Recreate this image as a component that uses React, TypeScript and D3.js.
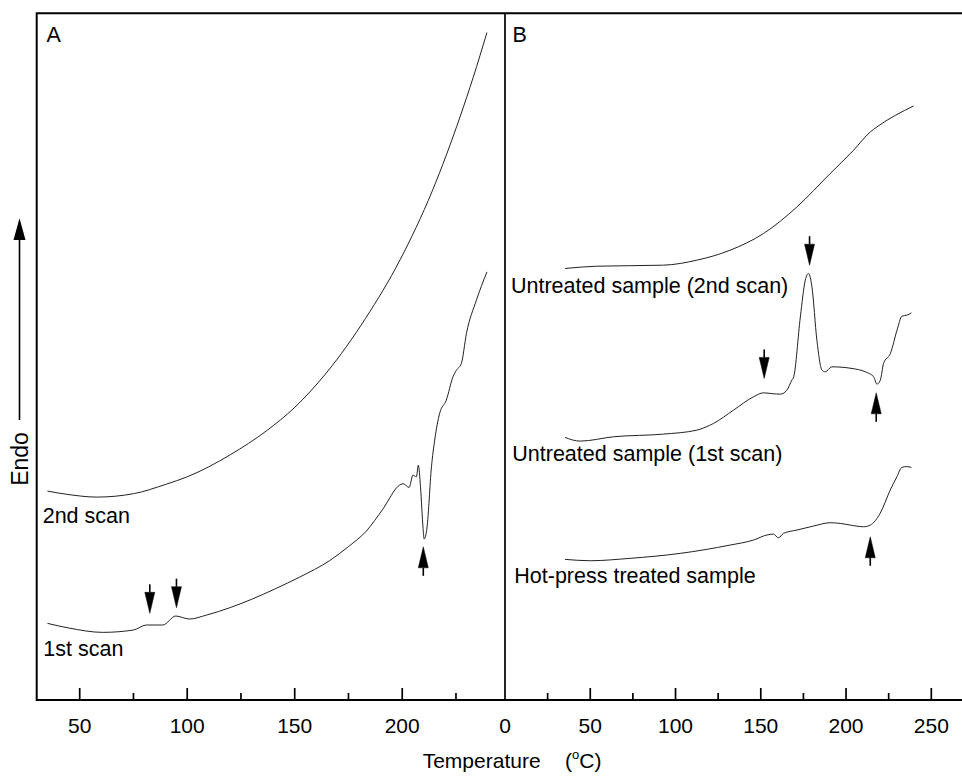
import React from "react";
import * as d3 from "d3";

// ---- Data (temperature °C, heat flow in arbitrary units, endo up) ----
const ticksA = [50, 100, 150, 200];
const minorTicksA = [75, 125, 175, 225];
const ticksB = [0, 50, 100, 150, 200, 250];
const minorTicksB = [25, 75, 125, 175, 225];

// Panel A
const scanA2: [number, number][] = [
  [35, 30.42], [45, 29.91], [58, 29.55], [75, 30.04], [90, 31.4], [100, 32.5],
  [120, 35.71], [137, 39.23], [150, 42.61], [165, 47.74], [183, 55.6], [199, 64.1],
  [214, 74.15], [227, 85.02], [233, 90.66], [239.4, 97.2],
];
const scanA1: [number, number][] = [
  [35, 11.16], [45, 10.48], [60.7, 9.85], [75, 10.19], [81, 10.92], [88.6, 10.92],
  [94.7, 12.23], [101, 11.79], [109, 12.37], [120, 13.46], [130, 14.67], [141, 16.2],
  [152.3, 17.9], [166.3, 20.31], [175, 22.34], [183.3, 24.6], [191, 27.8], [198.8, 31.3],
  [200.4, 31.5], [203.2, 30.96], [205, 32.75], [206.6, 32.5],
  [207.5, 34.21], [208.5, 31.05], [209.7, 24.99], [210.2, 23.44], [211.5, 25.04],
  [213.6, 33.96], [215.1, 37.85], [217.4, 41.73], [220.5, 43.67], [223.6, 47.06],
  [225.2, 48.03], [227.5, 49.01], [229.9, 53.42], [234.5, 58.22], [239.4, 62.34],
];

// Panel B
const untreated2: [number, number][] = [
  [35.2, 62.84], [53.8, 63.17], [92.9, 63.32], [112.5, 64.05], [132, 65.5], [151.6, 67.93],
  [171.2, 71.8], [190.7, 76.67], [204.4, 80.06], [214.2, 82.72], [218.1, 83.45], [239.6, 86.51],
];
const untreated1: [number, number][] = [
  [35.2, 38.24], [44, 37.7], [63.6, 38.33], [92.9, 38.72], [112.5, 39.3], [122.3, 40.28],
  [134, 42.21], [145.7, 44.15], [151.6, 44.73], [157, 44.6], [161.4, 44.54], [165.3, 45.12],
  [168.2, 46.58], [169.3, 47.06], [173.2, 55.79], [176.1, 61.14], [178, 62.11], [180, 60.16],
  [182.9, 52.4], [185.9, 48.03], [187.8, 47.79], [191.7, 48.52], [203.5, 48.28], [211.3, 47.79],
  [216.2, 47.06], [218.1, 46.0], [220.1, 46.58], [222, 49.01], [226, 50.47], [229.9, 53.86],
  [232.8, 55.9], [235.7, 56.04], [238.3, 56.37],
];
const hotPress: [number, number][] = [
  [35.2, 20.48], [50, 20.28], [73.4, 20.63], [102.7, 21.35], [132, 22.56], [145.7, 23.29],
  [153.5, 24.02], [157.4, 24.16], [160.3, 23.62], [163.3, 24.26], [171.2, 24.75], [180.9, 25.33],
  [190.7, 25.81], [196.6, 25.72], [202.5, 25.47], [210.3, 25.23], [214.2, 25.47], [220, 27.18],
  [225.9, 30.57], [229.8, 32.5], [232.7, 33.87], [235.6, 33.99], [238.3, 33.87],
];

// Arrows: [temperature, tip value, direction]
const arrowsA: [number, number, string][] = [
  [82.6, 12.62, "down"], [95, 13.44, "down"], [209.8, 22.31, "up"],
];
const arrowsB: [number, number, string][] = [
  [178.6, 63.32, "down"], [152, 46.83, "down"], [217.7, 44.73, "up"], [214.2, 23.77, "up"],
];

const FONT = "'Liberation Sans', Arial, Helvetica, sans-serif";

export default function App() {
  const W = 962, H = 778;
  const left = 36.7, mid = 505, right = 962, top = 13.3, bottom = 700;
  const y = d3.scaleLinear().domain([0, 100]).range([bottom, top]);
  const xA = d3.scaleLinear().domain([30, 247.8]).range([left, mid]);
  const xB = d3.scaleLinear().domain([0, 268]).range([mid, right]);

  const mkLine = (x: d3.ScaleLinear<number, number>) =>
    d3.line<[number, number]>().x((d) => x(d[0])).y((d) => y(d[1])).curve(d3.curveMonotoneX);
  const lineA = mkLine(xA);
  const lineB = mkLine(xB);

  const arrowPath = (cx: number, ty: number, dir: string) => {
    const s = dir === "down" ? -1 : 1; // direction from tip to tail
    const headL = 21, headW = 5, total = 29;
    const shaft = `M${cx},${ty + s * headL}L${cx},${ty + s * total}`;
    const head = `M${cx},${ty}L${cx - headW},${ty + s * headL}L${cx + headW},${ty + s * headL}Z`;
    return { shaft, head };
  };

  const renderArrows = (arr: [number, number, string][], x: d3.ScaleLinear<number, number>) =>
    arr.map(([t, v, dir], i) => {
      const p = arrowPath(x(t), y(v), dir);
      return (
        <g key={i}>
          <path d={p.shaft} stroke="#000" strokeWidth={1.6} fill="none" />
          <path d={p.head} fill="#000" stroke="#000" strokeWidth={0.5} />
        </g>
      );
    });

  const tickLabelY = 733;
  const fs = 21;

  return (
    <svg width={W} height={H} style={{ position: "absolute", left: 0, top: 0, background: "#fff" }}
      fontFamily={FONT}>
      <rect x={0} y={0} width={W} height={H} fill="#fff" />
      {/* frame */}
      <path d={`M${right},${top}L${left},${top}L${left},${bottom}L${right},${bottom}`}
        stroke="#000" strokeWidth={2} fill="none" />
      <line x1={mid} x2={mid} y1={top} y2={bottom} stroke="#000" strokeWidth={1.7} />

      {/* ticks A */}
      {ticksA.map((t) => (
        <g key={"ta" + t}>
          <line x1={xA(t)} x2={xA(t)} y1={bottom} y2={bottom - 12} stroke="#000" strokeWidth={1.7} />
          <text x={xA(t)} y={tickLabelY} fontSize={fs} textAnchor="middle">{t}</text>
        </g>
      ))}
      {minorTicksA.map((t) => (
        <line key={"ma" + t} x1={xA(t)} x2={xA(t)} y1={bottom} y2={bottom - 7} stroke="#000" strokeWidth={1.7} />
      ))}
      {/* ticks B */}
      {ticksB.map((t) => (
        <g key={"tb" + t}>
          {t !== 0 && <line x1={xB(t)} x2={xB(t)} y1={bottom} y2={bottom - 12} stroke="#000" strokeWidth={1.7} />}
          <text x={xB(t)} y={tickLabelY} fontSize={fs} textAnchor="middle">{t}</text>
        </g>
      ))}
      {minorTicksB.map((t) => (
        <line key={"mb" + t} x1={xB(t)} x2={xB(t)} y1={bottom} y2={bottom - 7} stroke="#000" strokeWidth={1.7} />
      ))}

      {/* x-axis title */}
      <text x={422.7} y={768} fontSize={fs}>
        Temperature
        <tspan x={565}>(</tspan>
        <tspan fontSize={13} dy={-9}>o</tspan>
        <tspan dy={9}>C)</tspan>
      </text>

      {/* Endo label with arrow */}
      <text transform={`translate(28,459) rotate(-90)`} fontSize={23} textAnchor="middle">Endo</text>
      <line x1={19.5} x2={19.5} y1={420} y2={238} stroke="#000" strokeWidth={1.6} />
      <path d={`M19.5,218.3L13.5,240L25.5,240Z`} fill="#000" />

      {/* panel labels */}
      <text x={46.5} y={42.3} fontSize={21.5}>A</text>
      <text x={512.5} y={42.3} fontSize={21.5}>B</text>

      {/* curves A */}
      <path d={lineA(scanA2) || ""} stroke="#222" strokeWidth={1} fill="none" />
      <path d={lineA(scanA1) || ""} stroke="#222" strokeWidth={1} fill="none" />
      {renderArrows(arrowsA, xA)}
      <text x={42.7} y={523} fontSize={21.5}>2nd scan</text>
      <text x={43.3} y={656} fontSize={21.5}>1st scan</text>

      {/* curves B */}
      <path d={lineB(untreated2) || ""} stroke="#222" strokeWidth={1} fill="none" />
      <path d={lineB(untreated1) || ""} stroke="#222" strokeWidth={1} fill="none" />
      <path d={lineB(hotPress) || ""} stroke="#222" strokeWidth={1} fill="none" />
      {renderArrows(arrowsB, xB)}
      <text x={511} y={293} fontSize={21.5}>Untreated sample (2nd scan)</text>
      <text x={512.3} y={461} fontSize={21.5}>Untreated sample (1st scan)</text>
      <text x={514.3} y={583} fontSize={21.5}>Hot-press treated sample</text>
    </svg>
  );
}
